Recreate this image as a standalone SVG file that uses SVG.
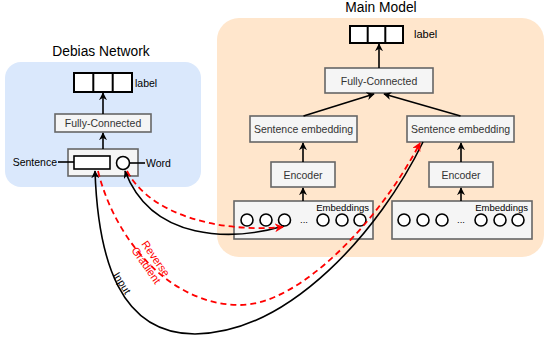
<svg xmlns="http://www.w3.org/2000/svg" width="546" height="342" viewBox="0 0 546 342">
<defs>
<marker id="ab" viewBox="0 0 10 10" refX="9" refY="5" markerWidth="8" markerHeight="8" markerUnits="userSpaceOnUse" orient="auto"><path d="M0,0 L10,5 L0,10 L3,5 Z" fill="#000"/></marker>
<marker id="ar" viewBox="0 0 10 10" refX="9" refY="5" markerWidth="9" markerHeight="9" markerUnits="userSpaceOnUse" orient="auto"><path d="M0,0 L10,5 L0,10 L3,5 Z" fill="#ff0000"/></marker>
</defs>
<style>
text{font-family:"Liberation Sans",Arial,sans-serif}
.title{font-size:13.8px;fill:#000;text-anchor:middle}
.box{fill:#f5f5f5;stroke:#666666;stroke-width:1.6}
.bt{font-size:10.5px;fill:#333333;text-anchor:middle}
.lab{fill:#fff;stroke:#000;stroke-width:2}
.sm{font-size:10.5px;fill:#000}
.em{font-size:9.5px;fill:#000;text-anchor:end}
.c{fill:#fff;stroke:#000;stroke-width:1.6}
.e{stroke:#000;stroke-width:1.6;fill:none}
.rd{stroke:#ff0000;stroke-width:1.8;fill:none;stroke-dasharray:6 4}
</style>
<g id="debias-panel">
<rect x="5" y="62" width="196" height="125" rx="16" fill="#dae8fc"/>
<text class="title" x="101" y="56">Debias Network</text>
</g>
<g id="main-panel">
<rect x="217" y="18" width="327" height="239" rx="22" fill="#ffe6cc"/>
<text class="title" x="381" y="12">Main Model</text>
</g>
<g id="debias-label">
<rect class="lab" x="74" y="73" width="58" height="19"/>
<line x1="93.3" y1="73" x2="93.3" y2="92" stroke="#000" stroke-width="2"/>
<line x1="112.7" y1="73" x2="112.7" y2="92" stroke="#000" stroke-width="2"/>
<text class="sm" x="135" y="87">label</text>
</g>
<g id="debias-fc">
<rect class="box" x="55" y="114" width="96" height="18"/>
<text class="bt" x="103" y="126.8">Fully-Connected</text>
</g>
<g id="debias-input">
<rect class="box" x="68" y="149" width="70" height="27"/>
<rect x="74" y="156" width="36" height="13" fill="#fff" stroke="#000" stroke-width="1.6"/>
<circle class="c" cx="123" cy="163" r="6.5"/>
<line class="e" x1="58" y1="162" x2="74" y2="162"/>
<line class="e" x1="129.5" y1="163" x2="145" y2="163"/>
<text class="sm" x="57" y="166" text-anchor="end">Sentence</text>
<text class="sm" x="146" y="167">Word</text>
</g>
<g id="main-label">
<rect class="lab" x="350" y="26" width="53" height="17"/>
<line x1="367.7" y1="26" x2="367.7" y2="43" stroke="#000" stroke-width="2"/>
<line x1="385.3" y1="26" x2="385.3" y2="43" stroke="#000" stroke-width="2"/>
<text class="sm" x="414" y="38" style="font-size:11px">label</text>
</g>
<g id="main-fc">
<rect class="box" x="325" y="68" width="108" height="25"/>
<text class="bt" x="379" y="84.5">Fully-Connected</text>
</g>
<g id="se-left">
<rect class="box" x="250" y="116" width="107" height="26"/>
<text class="bt" x="303.5" y="132.8">Sentence embedding</text>
</g>
<g id="se-right">
<rect class="box" x="407" y="116" width="107" height="26"/>
<text class="bt" x="460.5" y="132.8">Sentence embedding</text>
</g>
<g id="enc-left">
<rect class="box" x="271" y="162" width="64" height="25"/>
<text class="bt" x="303" y="178.5">Encoder</text>
</g>
<g id="enc-right">
<rect class="box" x="429" y="162" width="64" height="25"/>
<text class="bt" x="461" y="178.5">Encoder</text>
</g>
<g id="emb-left">
<rect class="box" x="234" y="201" width="139" height="38"/>
<text class="em" x="369" y="211">Embeddings</text>
<circle class="c" cx="247" cy="220" r="6"/>
<circle class="c" cx="266" cy="220" r="6"/>
<circle class="c" cx="284.5" cy="220" r="6"/>
<text class="em" x="304" y="223" text-anchor="middle" style="text-anchor:middle">...</text>
<circle class="c" cx="323" cy="220" r="6"/>
<circle class="c" cx="342" cy="220" r="6"/>
<circle class="c" cx="360" cy="220" r="6"/>
</g>
<g id="emb-right">
<rect class="box" x="392" y="201" width="140" height="38"/>
<text class="em" x="528" y="211">Embeddings</text>
<circle class="c" cx="404" cy="220" r="6"/>
<circle class="c" cx="423" cy="220" r="6"/>
<circle class="c" cx="442" cy="220" r="6"/>
<text class="em" x="461" y="223" style="text-anchor:middle">...</text>
<circle class="c" cx="481" cy="220" r="6"/>
<circle class="c" cx="500" cy="220" r="6"/>
<circle class="c" cx="518" cy="220" r="6"/>
</g>
<g id="connectors">
<line class="e" x1="103" y1="114" x2="103" y2="93" marker-end="url(#ab)"/>
<line class="e" x1="103" y1="149" x2="103" y2="133" marker-end="url(#ab)"/>
<line class="e" x1="379" y1="68" x2="379" y2="44" marker-end="url(#ab)"/>
<line class="e" x1="303.5" y1="116" x2="374" y2="94" marker-end="url(#ab)"/>
<line class="e" x1="460.5" y1="116" x2="384" y2="94" marker-end="url(#ab)"/>
<line class="e" x1="303" y1="162" x2="303" y2="143" marker-end="url(#ab)"/>
<line class="e" x1="461" y1="162" x2="461" y2="143" marker-end="url(#ab)"/>
<line class="e" x1="303" y1="201" x2="303" y2="188" marker-end="url(#ab)"/>
<line class="e" x1="461" y1="201" x2="461" y2="188" marker-end="url(#ab)"/>
<path class="e" d="M284,226 C232,241 152,242 125,171" marker-end="url(#ab)"/>
<path class="rd" d="M127,171 C150,215 220,233 283,227" marker-end="url(#ar)"/>
<path class="e" d="M423,142 C380,230 290,333 195,334 C120,334 98,260 95,171" marker-end="url(#ab)"/>
<path class="rd" d="M98,171 C115,240 170,305 240,305 C300,305 380,220 420,143" marker-end="url(#ar)"/>
<text x="151" y="262" font-size="11" fill="#ff0000" text-anchor="middle" transform="rotate(55 151 262)"><tspan x="151" dy="-2">Reverse</tspan><tspan x="151" dy="11.5">Gradient</tspan></text>
<text x="119" y="285" font-size="10.5" fill="#000" text-anchor="middle" transform="rotate(58 119 285)">Input</text>
</g>
</svg>
